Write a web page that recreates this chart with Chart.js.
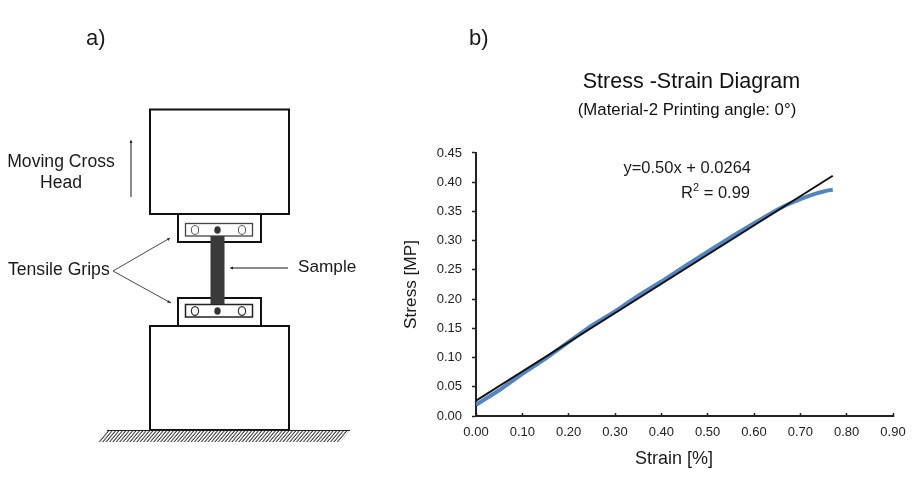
<!DOCTYPE html>
<html>
<head>
<meta charset="utf-8">
<title>Stress-Strain Diagram</title>
<script src="https://cdn.jsdelivr.net/npm/chart.js@4/dist/chart.umd.min.js"></script>
<style>
  html, body { margin: 0; padding: 0; background: #fff; overflow: hidden; }
  #wrap { position: relative; width: 920px; height: 495px; }
  #wrap canvas, #wrap svg { position: absolute; left: 0; top: 0; }
  svg text { font-family: "Liberation Sans", Arial, sans-serif; fill: #1a1a1a; }
</style>
</head>
<body>
<div id="wrap">
  <canvas id="stressChart" width="920" height="495"></canvas>
  <svg width="920" height="495" viewBox="0 0 920 495">
    <defs>
      <pattern id="hatch" width="3.4" height="12" patternUnits="userSpaceOnUse" patternTransform="skewX(-40)">
        <line x1="1" y1="0" x2="1" y2="12" stroke="#111" stroke-width="1.1"/>
      </pattern>
    </defs>

    <text x="86" y="45" font-size="22">a)</text>
    <text x="469" y="45" font-size="22">b)</text>

    <!-- test machine sketch -->
    <g fill="#fff" stroke="#111" stroke-width="2">
      <rect x="150" y="109.5" width="139" height="104.5"/>
      <rect x="178" y="214" width="83" height="28"/>
      <rect x="178" y="298" width="83" height="28"/>
      <rect x="150" y="326" width="139" height="104"/>
    </g>
    <rect x="185.5" y="223.5" width="67" height="12.5" fill="#fff" stroke="#444" stroke-width="1.3"/>
    <rect x="185.5" y="304.5" width="67" height="12.5" fill="#fff" stroke="#222" stroke-width="1.5"/>
    <rect x="210.5" y="236" width="14" height="68" fill="#3a3a3a"/>
    <g fill="#fff" stroke="#555" stroke-width="1">
      <ellipse cx="195" cy="230" rx="3.6" ry="4.4"/>
      <ellipse cx="242" cy="230" rx="3.6" ry="4.4"/>
    </g>
    <g fill="#fff" stroke="#333" stroke-width="1.2">
      <ellipse cx="195" cy="311" rx="3.6" ry="4.4"/>
      <ellipse cx="242" cy="311" rx="3.6" ry="4.4"/>
    </g>
    <ellipse cx="217.5" cy="230" rx="3.2" ry="3.8" fill="#333"/>
    <ellipse cx="217.5" cy="311" rx="3.2" ry="3.8" fill="#333"/>

    <polygon points="107,430 350,430 340,442 97,442" fill="url(#hatch)"/>
    <line x1="107" y1="430.5" x2="350" y2="430.5" stroke="#222" stroke-width="1"/>

    <!-- arrows -->
    <g stroke="#666" stroke-width="1.5" fill="none">
      <line x1="131" y1="197" x2="131" y2="141"/>
      <line x1="288" y1="268" x2="231" y2="268"/>
    </g>
    <g stroke="#333" stroke-width="0.9" fill="none">
      <line x1="113" y1="271" x2="170" y2="238"/>
      <line x1="113" y1="271" x2="171" y2="303"/>
    </g>
    <g fill="#222">
      <polygon points="131,139.5 129.6,143 132.4,143"/>
      <polygon points="229.5,268 233,266.6 233,269.4"/>
      <polygon points="170,238 167,238.6 168.4,241"/>
      <polygon points="171,303 168.4,300.2 167,302.6"/>
    </g>

    <text x="61" y="167" font-size="17.6" text-anchor="middle">Moving Cross</text>
    <text x="61" y="188" font-size="17.6" text-anchor="middle">Head</text>
    <text x="8" y="275" font-size="17.6">Tensile Grips</text>
    <text x="298" y="272" font-size="17.2">Sample</text>

    <!-- fit annotation and x axis name -->
    <text x="751" y="173" font-size="16.5" text-anchor="end">y=0.50x + 0.0264</text>
    <text x="750" y="198" font-size="16.5" text-anchor="end">R<tspan font-size="11" dy="-7">2</tspan><tspan dy="7"> = 0.99</tspan></text>
    <text x="674" y="464" font-size="18" text-anchor="middle">Strain [%]</text>
  </svg>
</div>

<script>
// curve
const strainValues = [0, 0.02, 0.05, 0.10, 0.15, 0.20, 0.25, 0.30, 0.35, 0.40, 0.45, 0.50, 0.55, 0.60, 0.65, 0.67, 0.70, 0.72, 0.74, 0.76, 0.77];
const stressValues = [0.019, 0.029, 0.044, 0.072, 0.098, 0.127, 0.155, 0.179, 0.206, 0.230, 0.256, 0.281, 0.306, 0.330, 0.353, 0.361, 0.371, 0.377, 0.382, 0.386, 0.387];

// fitted line end points
const fitStrain = [0, 0.77];
const fitStress = [0.0264, 0.411];

const toPoints = (xs, ys) => xs.map((x, i) => ({ x: x, y: ys[i] }));

// titles sit a bit right of the plot centre in the original
const titleNudge = {
    id: 'titleNudge',
    afterLayout(chart) {
        const sub = chart.boxes.find(b => b !== chart.titleBlock && b.options && b.options.text && b.options.text.startsWith('('));
        chart.titleBlock.left += 7;
        chart.titleBlock.right += 7;
        if (sub) { sub.left += 2.5; sub.right += 2.5; }
    }
};

const tickFont = { family: '"Liberation Sans", Arial, sans-serif', size: 13 };

new Chart(document.getElementById('stressChart'), {
    type: 'scatter',
    data: {
        datasets: [
            {
                label: 'Linear fit',
                data: toPoints(fitStrain, fitStress),
                showLine: true,
                borderColor: '#111',
                borderWidth: 2,
                pointRadius: 0,
                tension: 0
            },
            {
                label: 'Material-2',
                data: toPoints(strainValues, stressValues),
                showLine: true,
                borderColor: '#5585c0',
                borderWidth: 4,
                pointRadius: 0,
                tension: 0
            }
        ]
    },
    options: {
        responsive: false,
        animation: false,
        layout: { padding: { left: 401, right: 27, top: 69, bottom: 39 } },
        plugins: {
            legend: { display: false },
            tooltip: { enabled: false },
            title: {
                display: true,
                text: 'Stress -Strain Diagram',
                color: '#111',
                fullSize: false,
                font: { family: '"Liberation Sans", Arial, sans-serif', size: 21.5, weight: 'normal' },
                padding: { top: 0, bottom: 5 }
            },
            subtitle: {
                display: true,
                text: '(Material-2 Printing angle: 0°)',
                color: '#111',
                fullSize: false,
                font: { family: '"Liberation Sans", Arial, sans-serif', size: 16.8, weight: 'normal' },
                padding: { top: 0, bottom: 33 }
            }
        },
        scales: {
            x: {
                type: 'linear',
                min: 0,
                max: 0.9,
                afterFit(scale) { scale.height = 40; },
                border: { color: '#222', width: 2 },
                grid: { drawOnChartArea: false, color: '#222', tickLength: -3, tickWidth: 1.5 },
                ticks: {
                    stepSize: 0.1,
                    color: '#222',
                    font: tickFont,
                    padding: 12,
                    maxRotation: 0,
                    callback: v => v.toFixed(2)
                }
            },
            y: {
                min: 0,
                max: 0.45,
                afterFit(scale) { scale.width = 75; },
                border: { color: '#222', width: 2 },
                grid: { drawOnChartArea: false, color: '#222', tickLength: 4, tickWidth: 1.5 },
                title: {
                    display: true,
                    text: 'Stress [MP]',
                    color: '#1a1a1a',
                    font: { family: '"Liberation Sans", Arial, sans-serif', size: 17.2 },
                    padding: 0
                },
                ticks: {
                    stepSize: 0.05,
                    color: '#222',
                    font: tickFont,
                    padding: 10,
                    callback: v => v.toFixed(2)
                }
            }
        }
    },
    plugins: [titleNudge]
});
</script>
</body>
</html>
